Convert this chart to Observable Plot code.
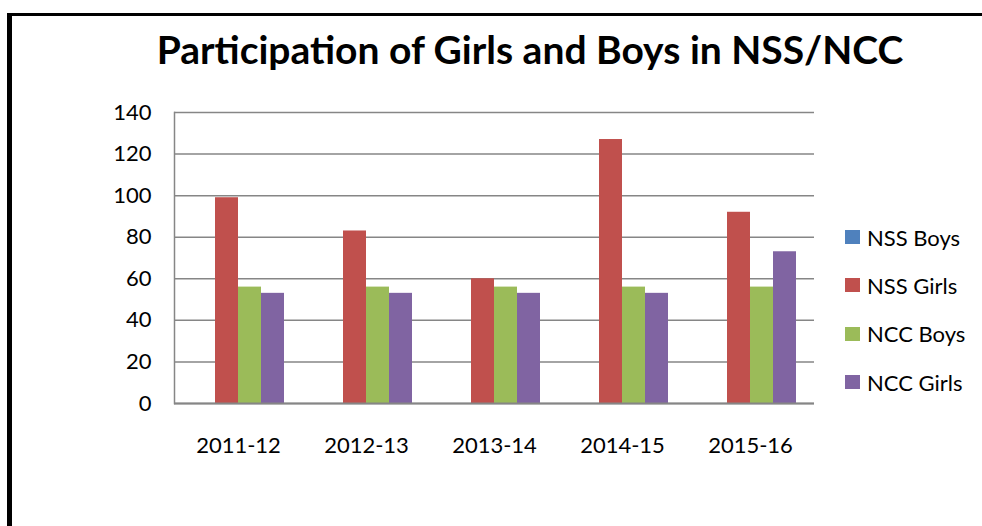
<!DOCTYPE html>
<html>
<head>
<meta charset="utf-8">
<script src="https://cdn.jsdelivr.net/npm/d3@7"></script>
<script src="https://cdn.jsdelivr.net/npm/@observablehq/plot@0.6"></script>
<style>
  html, body { margin: 0; padding: 0; background: #fff; }
  #page { position: relative; width: 982px; height: 526px; overflow: hidden; font-family: Lato, "Open Sans", sans-serif; }
  #border { position: absolute; left: 7px; top: 13px; width: 1100px; height: 600px; border-left: 5px solid #000; border-top: 3px solid #000; box-sizing: border-box; }
  #title { position: absolute; left: 530px; top: 26px; transform: translateX(-50%); white-space: nowrap; font-weight: 700; font-size: 39px; color: #000; }
  #chart { position: absolute; left: 0; top: 90px; }
  #legend { position: absolute; left: 845px; top: 213px; }
  .item { display: flex; align-items: center; height: 48.3px; font-size: 22px; color: #000; }
  .sw { width: 15px; height: 14px; margin-right: 7px; }
</style>
</head>
<body>
<div id="page">
  <div id="border"></div>
  <div id="title">Participation of Girls and Boys in NSS/NCC</div>
  <div id="chart"></div>
  <div id="legend"></div>
</div>
<script>
const years = ["2011-12", "2012-13", "2013-14", "2014-15", "2015-16"];
const seriesNames = ["NSS Boys", "NSS Girls", "NCC Boys", "NCC Girls"];
const colors = ["#4f81bd", "#c0504d", "#9bbb59", "#8064a2"];
const nssBoys = [0, 0, 0, 0, 0];
const nssGirls = [99, 83, 60, 127, 92];
const nccBoys = [56, 56, 56, 56, 56];
const nccGirls = [53, 53, 53, 53, 73];
const yTicks = [0, 20, 40, 60, 80, 100, 120, 140];

const valuesBySeries = [nssBoys, nssGirls, nccBoys, nccGirls];
const data = [];
years.forEach((yr, i) => {
  seriesNames.forEach((s, j) => {
    data.push({ year: yr, series: s, value: valuesBySeries[j][i] });
  });
});

const plot = Plot.plot({
  width: 982,
  height: 380,
  marginLeft: 173,
  marginRight: 168,
  marginTop: 22,
  marginBottom: 67,
  style: { fontFamily: "Lato, 'Open Sans', sans-serif", fontSize: "22px", color: "#000", background: "transparent" },
  fx: { domain: years, padding: 0, label: null },
  x: { domain: seriesNames, paddingInner: 0, paddingOuter: 0.72, axis: null },
  y: { domain: [0, 140], ticks: yTicks, label: null },
  color: { domain: seriesNames, range: colors },
  marks: [
    Plot.gridY(yTicks, { stroke: "#868686", strokeOpacity: 1, strokeWidth: 1.5 }),
    Plot.frame({ anchor: "left", facetAnchor: "left", stroke: "#868686", strokeWidth: 1.5 }),
    Plot.barY(data, { fx: "year", x: "series", y: "value", fill: "series" }),
    Plot.ruleY([0], { stroke: "#868686", strokeWidth: 2 }),
    Plot.axisY(yTicks, { tickSize: 0, tickPadding: 23, fontSize: 22, fill: "#000", label: null }),
    Plot.axisFx({ anchor: "bottom", tickSize: 0, tickPadding: 34, fontSize: 22, fill: "#000", label: null })
  ]
});
document.getElementById("chart").appendChild(plot);

const legend = document.getElementById("legend");
seriesNames.forEach((s, j) => {
  const item = document.createElement("div");
  item.className = "item";
  const sw = document.createElement("div");
  sw.className = "sw";
  sw.style.background = colors[j];
  const t = document.createElement("span");
  t.textContent = s;
  item.appendChild(sw);
  item.appendChild(t);
  legend.appendChild(item);
});
</script>
</body>
</html>
